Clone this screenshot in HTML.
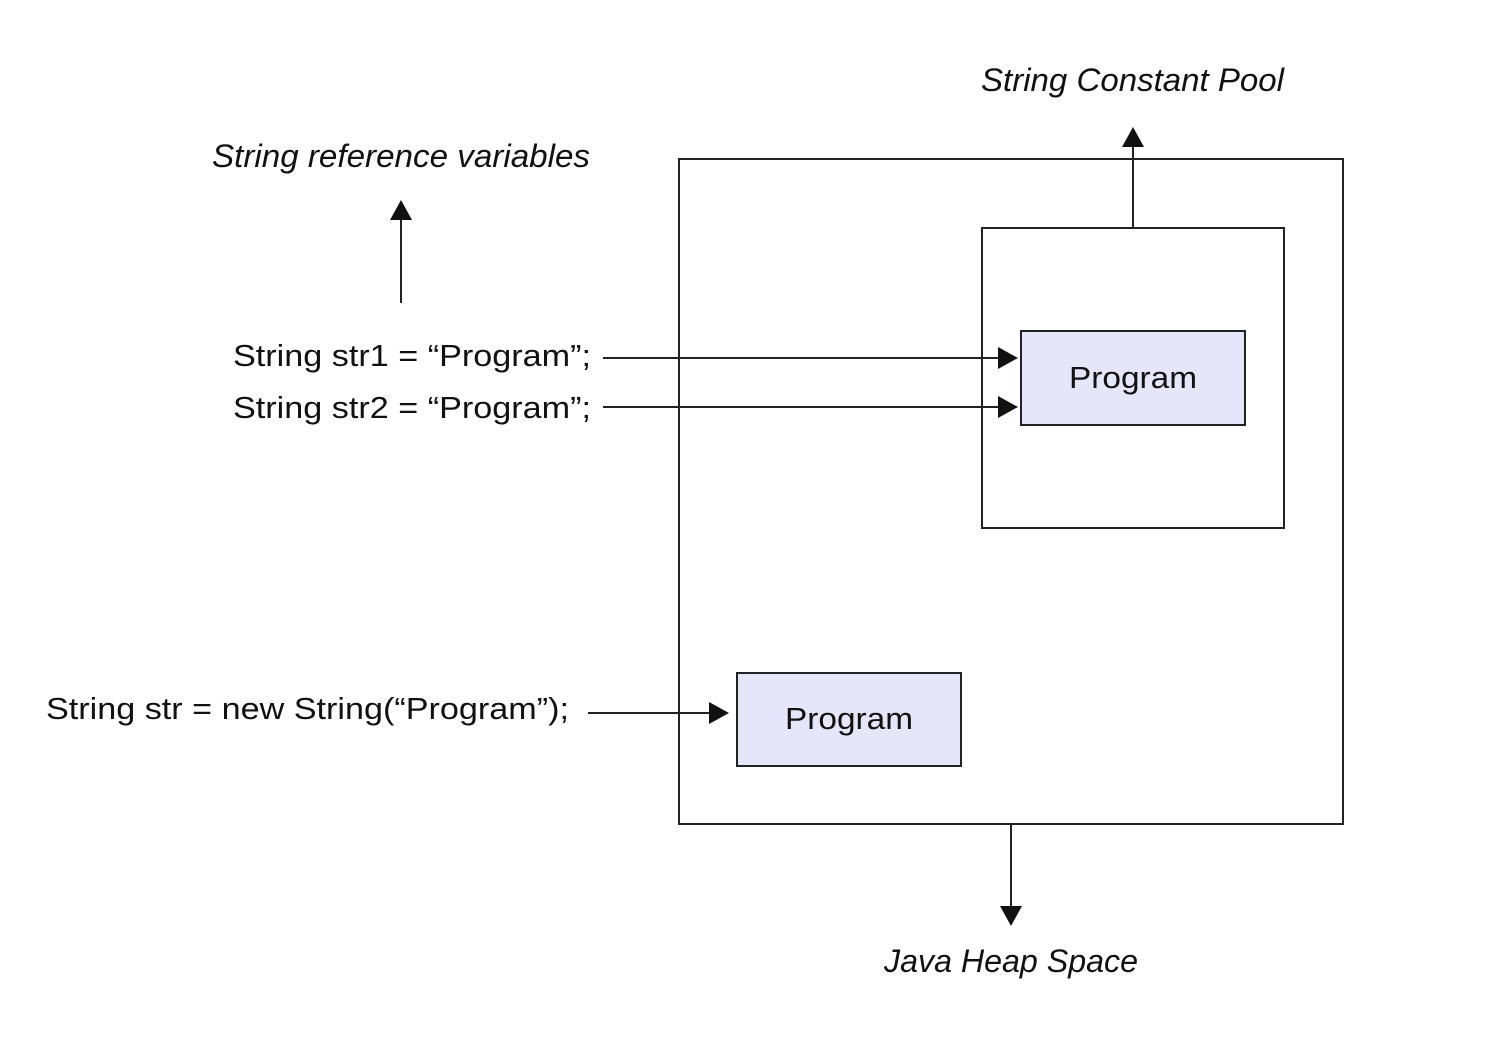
<!DOCTYPE html>
<html><head><style>html,body{margin:0;padding:0;background:#fff}svg{display:block}</style></head>
<body>
<svg width="1492" height="1038" viewBox="0 0 1492 1038" xmlns="http://www.w3.org/2000/svg" font-family="Liberation Sans, sans-serif" fill="#111">
<rect width="1492" height="1038" fill="#fff"/>
<g stroke="#222" stroke-width="2" fill="none">
<rect x="679" y="159" width="664" height="665"/>
<rect x="982" y="228" width="302" height="300"/>
<rect x="1021" y="331" width="224" height="94" fill="#e6e6fa"/>
<rect x="737" y="673" width="224" height="93" fill="#e6e6fa"/>
<line x1="1133" y1="228" x2="1133" y2="145"/>
<line x1="401" y1="303" x2="401" y2="218"/>
<line x1="603" y1="358" x2="1000" y2="358"/>
<line x1="603" y1="407" x2="1000" y2="407"/>
<line x1="588" y1="713" x2="712" y2="713"/>
<line x1="1011" y1="824" x2="1011" y2="908"/>
</g>
<g fill="#111">
<polygon points="1122,147 1144,147 1133,127"/>
<polygon points="390,220 412,220 401,200"/>
<polygon points="998,347 998,369 1018,358"/>
<polygon points="998,396 998,418 1018,407"/>
<polygon points="709,702 709,724 729,713"/>
<polygon points="1000,906 1022,906 1011,926"/>
</g>
<g font-size="31">
<text x="1133" y="388" text-anchor="middle" textLength="128" lengthAdjust="spacingAndGlyphs">Program</text>
<text x="849" y="729" text-anchor="middle" textLength="128" lengthAdjust="spacingAndGlyphs">Program</text>
<text x="233" y="366" textLength="358" lengthAdjust="spacingAndGlyphs">String str1 = “Program”;</text>
<text x="233" y="418" textLength="358" lengthAdjust="spacingAndGlyphs">String str2 = “Program”;</text>
<text x="46" y="719" textLength="523" lengthAdjust="spacingAndGlyphs">String str = new String(“Program”);</text>
</g>
<g font-size="32" font-style="italic">
<text x="981" y="91" textLength="303" lengthAdjust="spacingAndGlyphs">String Constant Pool</text>
<text x="212" y="167" textLength="378" lengthAdjust="spacingAndGlyphs">String reference variables</text>
<text x="884" y="972" textLength="254" lengthAdjust="spacingAndGlyphs">Java Heap Space</text>
</g>
</svg>
</body></html>
